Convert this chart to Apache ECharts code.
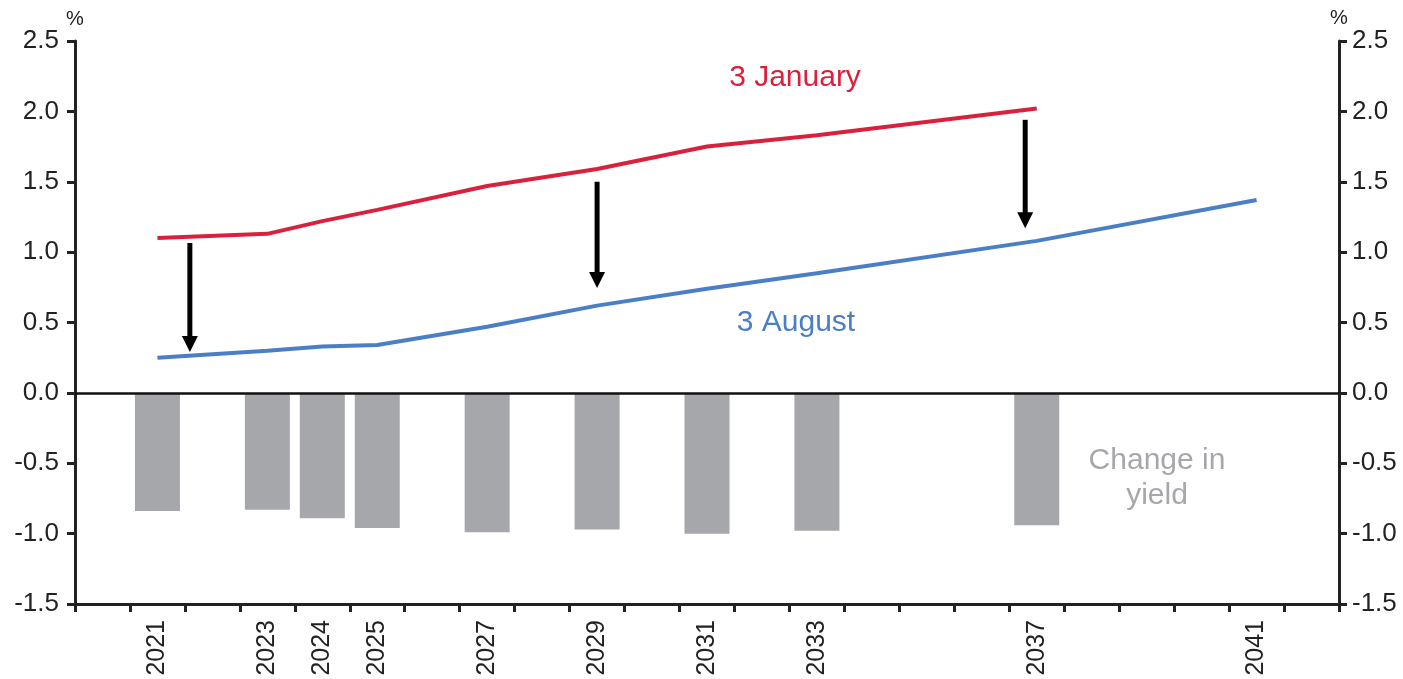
<!DOCTYPE html>
<html>
<head>
<meta charset="utf-8">
<script src="https://cdn.jsdelivr.net/npm/echarts@6/dist/echarts.min.js"></script>
<style>
  html, body { margin: 0; padding: 0; background: #fff; }
  #chart { width: 1403px; height: 679px; }
</style>
</head>
<body>
<div id="chart"></div>
<script>
// Years on the horizontal axis (one slot per year) and the ones that get a label
const years = ['2020','2021','2022','2023','2024','2025','2026','2027','2028','2029','2030',
               '2031','2032','2033','2034','2035','2036','2037','2038','2039','2040','2041','2042'];
const labelledYears = ['2021','2023','2024','2025','2027','2029','2031','2033','2037','2041'];

// Bond maturities with yields (%)
const maturities = ['2021','2023','2024','2025','2027','2029','2031','2033','2037','2041'];
const yieldJanuary = [1.10, 1.13, 1.22, 1.30, 1.47, 1.59, 1.75, 1.83, 2.02, null];
const yieldAugust  = [0.25, 0.30, 0.33, 0.34, 0.47, 0.62, 0.74, 0.85, 1.08, 1.37];
const yieldChange  = [-0.84, -0.83, -0.89, -0.96, -0.99, -0.97, -1.00, -0.98, -0.94, null];

// Downward arrows from the January curve to the August curve: [year position, from, to]
const arrows = [
  [2021.59, 1.065, 0.29],
  [2029.0, 1.50, 0.745],
  [2036.79, 1.94, 1.17]
];

const yTicks = { min: -1.5, max: 2.5, interval: 0.5 };

function onYears(values) {
  return years.map(y => {
    const i = maturities.indexOf(y);
    return i >= 0 ? values[i] : null;
  });
}

const FONT = 'Liberation Sans, Arial, sans-serif';
const AXIS = '#222';
const RED = '#d9203c';
const BLUE = '#4a7fc5';
const GREY = '#a6a7aa';

function yAxisDef(pos, margin) {
  return {
    type: 'value', position: pos,
    min: yTicks.min, max: yTicks.max, interval: yTicks.interval,
    name: '%', nameLocation: 'end', nameGap: 12,
    nameTextStyle: { fontFamily: FONT, fontSize: 20, color: AXIS },
    axisLine: { show: true, lineStyle: { color: AXIS, width: 3 } },
    axisTick: { show: true, inside: false, length: 8, lineStyle: { color: AXIS, width: 3 } },
    axisLabel: { fontFamily: FONT, fontSize: 26, color: AXIS, margin: margin,
                 formatter: v => v.toFixed(1) },
    splitLine: { show: false }
  };
}

const chart = echarts.init(document.getElementById('chart'));
chart.setOption({
  animation: false,
  backgroundColor: '#fff',
  grid: { left: 75, right: 64, top: 41, bottom: 75 },
  xAxis: [
    {
      type: 'category', data: years, boundaryGap: true, position: 'bottom',
      axisLine: { onZero: false, lineStyle: { color: AXIS, width: 3 } },
      axisTick: { show: true, interval: 0, length: 8, lineStyle: { color: AXIS, width: 3 } },
      axisLabel: {
        interval: 0, rotate: 90, margin: 16, fontFamily: FONT, fontSize: 25, color: AXIS,
        formatter: v => labelledYears.indexOf(v) >= 0 ? v : ''
      },
      splitLine: { show: false }
    },
    {
      type: 'value', min: 2019.5, max: 2042.5, show: false
    }
  ],
  yAxis: [yAxisDef('left', 16), yAxisDef('right', 13)],
  series: [
    {
      name: 'Change in yield', type: 'bar', xAxisIndex: 0, yAxisIndex: 0,
      data: onYears(yieldChange), barWidth: 45,
      itemStyle: { color: GREY },
      markLine: {
        silent: true, symbol: 'none', label: { show: false },
        lineStyle: { color: '#111', width: 2.5, type: 'solid' },
        data: [{ yAxis: 0 }]
      },
      z: 2
    },
    {
      name: '3 January', type: 'line', xAxisIndex: 0, yAxisIndex: 0,
      data: onYears(yieldJanuary), connectNulls: true, showSymbol: false,
      lineStyle: { color: RED, width: 4 }, itemStyle: { color: RED }, z: 3
    },
    {
      name: '3 August', type: 'line', xAxisIndex: 0, yAxisIndex: 0,
      data: onYears(yieldAugust), connectNulls: true, showSymbol: false,
      lineStyle: { color: BLUE, width: 4 }, itemStyle: { color: BLUE }, z: 3
    },
    {
      type: 'custom', xAxisIndex: 1, yAxisIndex: 0, data: arrows, z: 4, silent: true,
      renderItem: function (params, api) {
        const top = api.coord([api.value(0), api.value(1)]);
        const tip = api.coord([api.value(0), api.value(2)]);
        const head = 16, half = 8;
        return {
          type: 'group',
          children: [
            { type: 'line',
              shape: { x1: top[0], y1: top[1], x2: tip[0], y2: tip[1] - head + 2 },
              style: { stroke: '#000', lineWidth: 5 } },
            { type: 'polygon',
              shape: { points: [[tip[0] - half, tip[1] - head], [tip[0] + half, tip[1] - head], [tip[0], tip[1]]] },
              style: { fill: '#000' } }
          ]
        };
      }
    }
  ],
  graphic: [
    { type: 'text', x: 795, y: 78, style: { text: '3 January', fill: RED, font: '30px ' + FONT,
      textAlign: 'center', textVerticalAlign: 'middle' } },
    { type: 'text', x: 796, y: 323, style: { text: '3 August', fill: BLUE, font: '30px ' + FONT,
      textAlign: 'center', textVerticalAlign: 'middle' } },
    { type: 'text', x: 1157, y: 478, style: { text: 'Change in\nyield', fill: GREY, font: '30px ' + FONT,
      textAlign: 'center', textVerticalAlign: 'middle', lineHeight: 35 } }
  ]
});
</script>
</body>
</html>
